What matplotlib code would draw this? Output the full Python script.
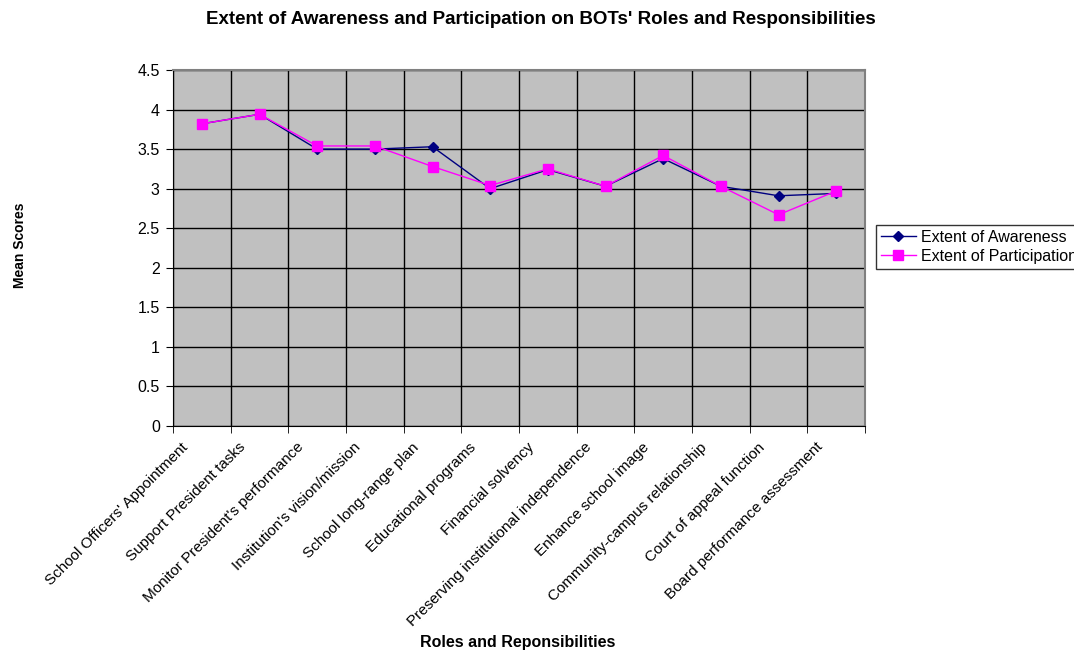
import matplotlib
matplotlib.use('Agg')
import matplotlib.pyplot as plt
import matplotlib.transforms as mtransforms
import numpy as np

plt.rcParams['font.family'] = ['Liberation Sans', 'DejaVu Sans']

# Data
roles = ["School Officers' Appointment", "Support President tasks",
         "Monitor President's performance", "Institution's vision/mission",
         "School long-range plan", "Educational programs", "Financial solvency",
         "Preserving institutional independence", "Enhance school image",
         "Community-campus relationship", "Court of appeal function",
         "Board performance assessment"]
awareness = [3.82, 3.94, 3.50, 3.50, 3.53, 3.00, 3.24, 3.03, 3.38, 3.03, 2.91, 2.94]
participation = [3.82, 3.94, 3.54, 3.54, 3.28, 3.04, 3.25, 3.03, 3.42, 3.03, 2.67, 2.97]
y_ticks = [0, 0.5, 1, 1.5, 2, 2.5, 3, 3.5, 4, 4.5]

fig = plt.figure(figsize=(10.74, 6.5), dpi=100)
ax = fig.add_axes([173 / 1074, 1 - 426 / 650, 692 / 1074, 356 / 650])
ax.set_facecolor('#c0c0c0')

x = np.arange(len(roles))
ax.plot(x, awareness, color='#000080', lw=1, marker='D', ms=5,
        label='Extent of Awareness', zorder=3)
ax.plot(x, participation, color='#ff00ff', lw=1, marker='s', ms=7,
        label='Extent of Participation', zorder=4)

ax.set_xlim(-0.5, len(roles) - 0.5)
ax.set_ylim(0, 4.5)
ax.set_yticks(y_ticks)
ax.set_yticklabels([f'{v:g}' for v in y_ticks], fontsize=11.5)
ax.grid(axis='y', color='black', lw=1)

# category boundaries: grid + tick marks; labels drawn at the centers
ax.set_xticks(np.arange(len(roles) + 1) - 0.5, minor=True)
ax.set_xticks(x)
ax.tick_params(axis='x', which='major', length=0, labelbottom=False)
ax.tick_params(axis='x', which='minor', length=5, color='black')
ax.tick_params(axis='y', length=5, color='black', pad=4.5)
ax.grid(axis='x', which='minor', color='black', lw=1)
ax.set_axisbelow(True)

shift = mtransforms.ScaledTranslation(-21 / 100, -14 / 100, fig.dpi_scale_trans)
for xi, name in zip(x, roles):
    ax.text(xi, 0, name, transform=ax.get_xaxis_transform() + shift,
            rotation=45, ha='right', va='top', rotation_mode='anchor', fontsize=11)

for s in ['top', 'right']:
    ax.spines[s].set_color('#808080')
    ax.spines[s].set_linewidth(1.5)
ax.spines['left'].set_color('black')
ax.spines['bottom'].set_color('black')

fig.text(541 / 1074, 1 - 19 / 650, "Extent of Awareness and Participation on BOTs' Roles and Responsibilities",
         ha='center', va='center', fontsize=13.5, fontweight='bold')
fig.text(20 / 1074, 1 - 245 / 650, 'Mean Scores', rotation=90, ha='center', va='center',
         fontsize=10, fontweight='bold')
fig.text(518 / 1074, 1 - 642 / 650, 'Roles and Reponsibilities', ha='center', va='center',
         fontsize=11.5, fontweight='bold')

leg = fig.legend(loc='upper left', bbox_to_anchor=(876 / 1074, 1 - 225 / 650),
                 fontsize=11.5, frameon=True, fancybox=False, borderaxespad=0,
                 handlelength=2.2, handletextpad=0.3, borderpad=0.3, labelspacing=0.25)
leg.get_frame().set_edgecolor('black')
leg.get_frame().set_linewidth(1)

fig.savefig('out.png', dpi=100)
